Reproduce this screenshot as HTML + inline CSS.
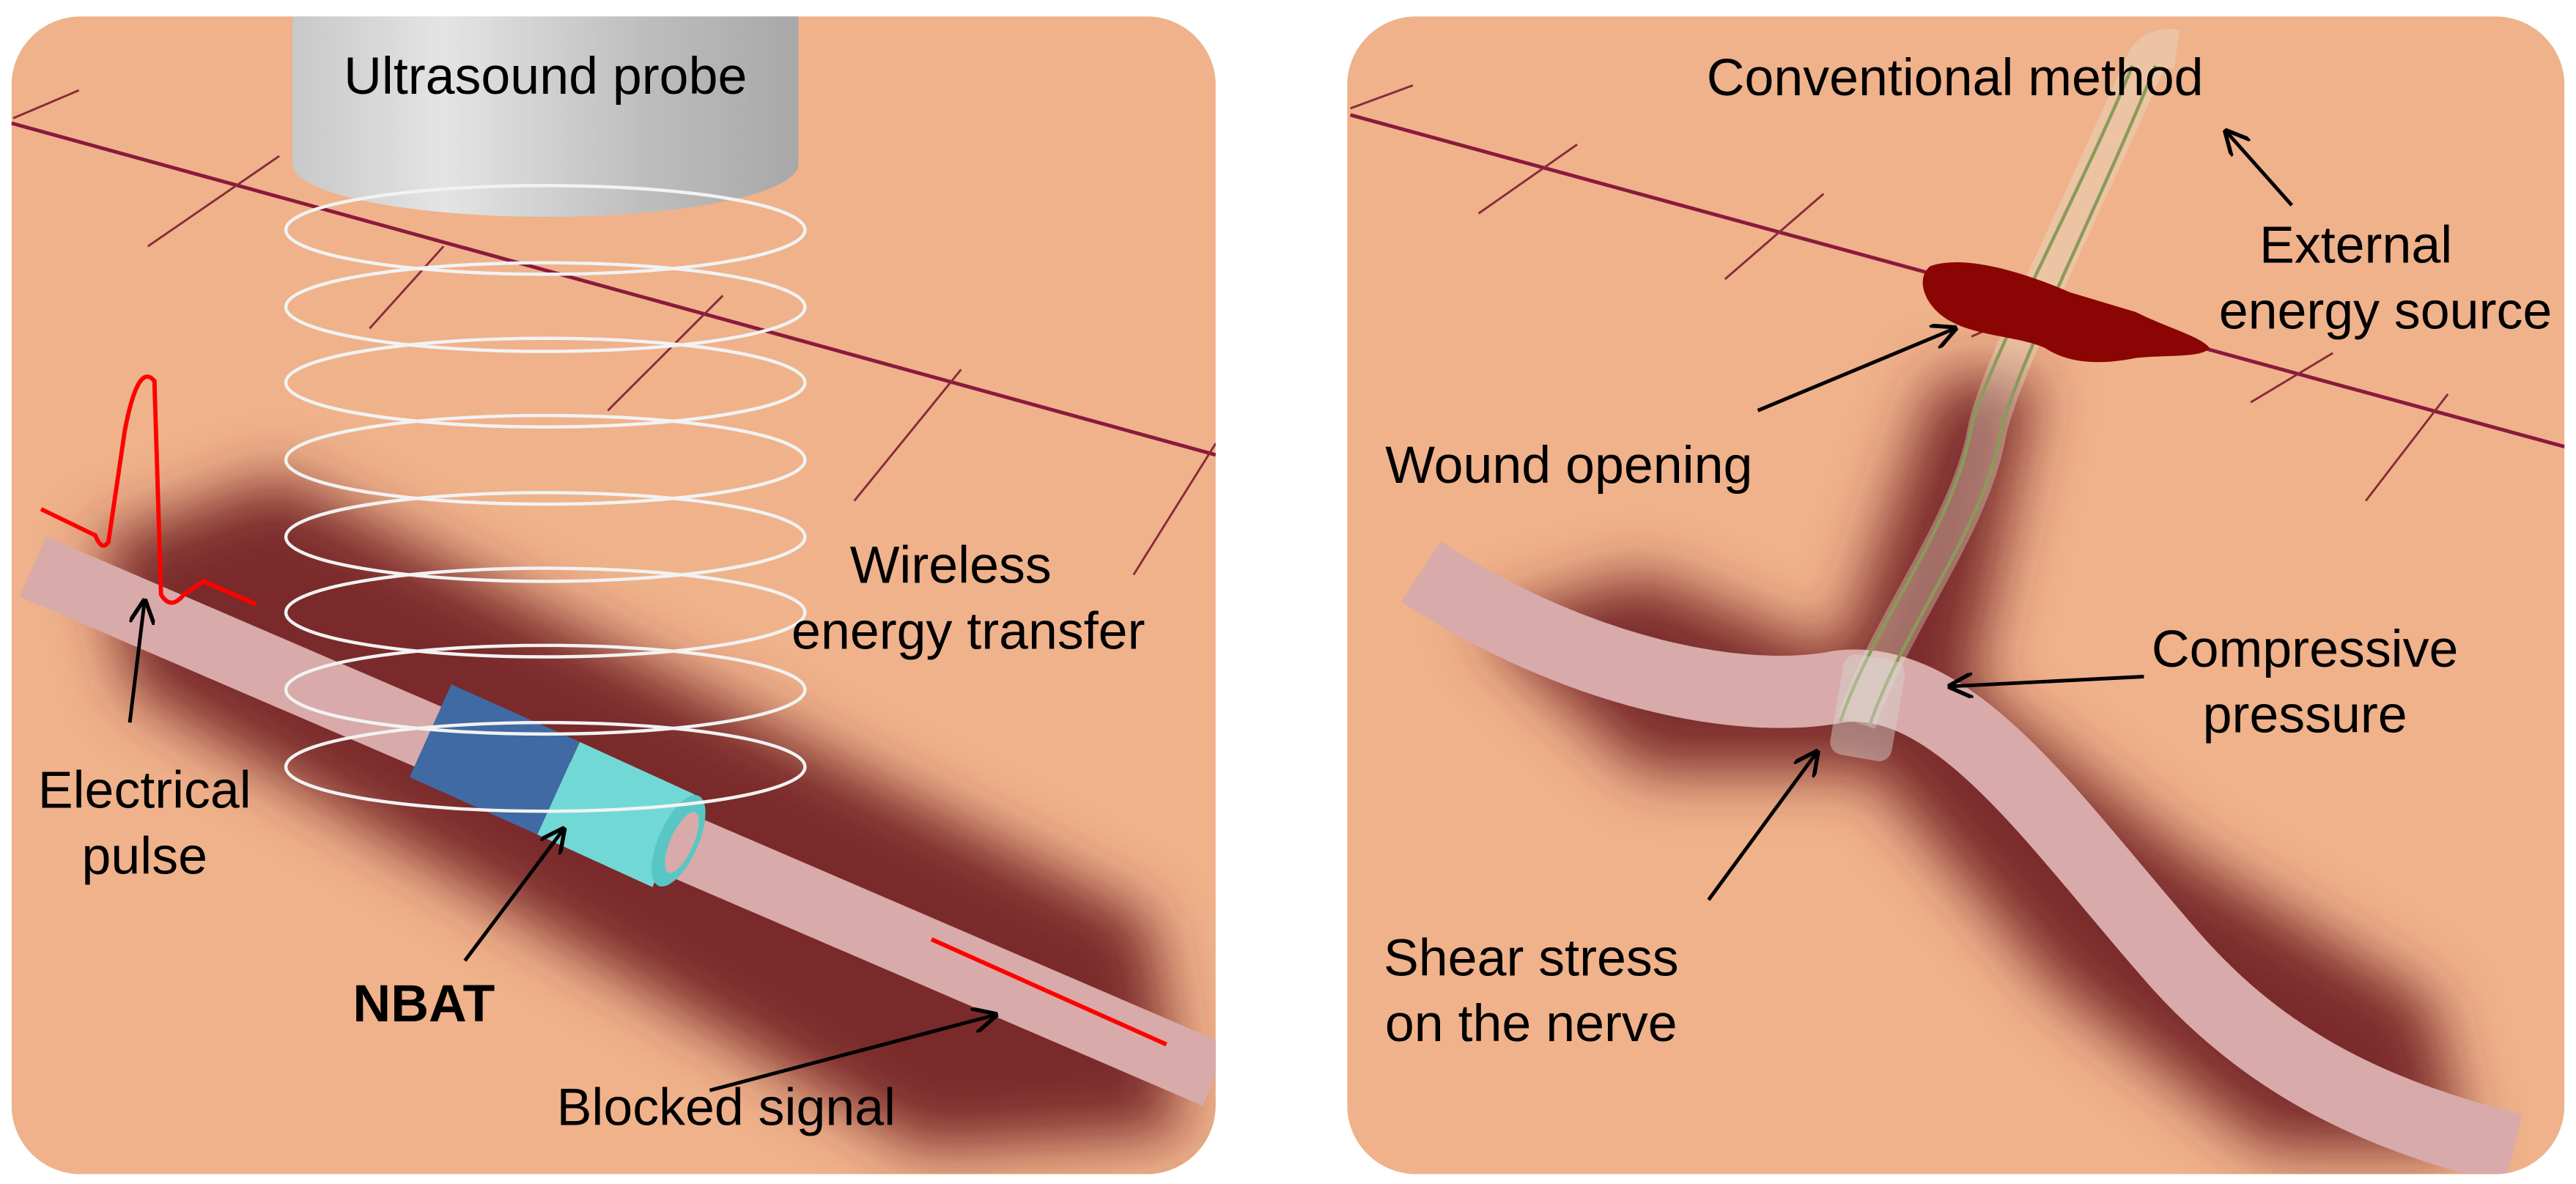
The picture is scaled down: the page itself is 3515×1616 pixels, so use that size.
<!DOCTYPE html>
<html><head><meta charset="utf-8"><style>
html,body{margin:0;padding:0;background:#fff;width:3515px;height:1616px;overflow:hidden}
svg{display:block}
text{font-family:"Liberation Sans",Arial,sans-serif;font-size:32px;fill:#000}
</style></head><body>
<svg width="3515" height="1616" viewBox="0 0 1568 721" preserveAspectRatio="none" xmlns="http://www.w3.org/2000/svg">
<defs>
<filter id="blur" x="-30%" y="-30%" width="160%" height="160%"><feGaussianBlur stdDeviation="18"/></filter>
<linearGradient id="probe" x1="0" x2="1" y1="0" y2="0">
<stop offset="0" stop-color="#c8c8c8"/><stop offset="0.3" stop-color="#e4e4e4"/><stop offset="0.7" stop-color="#bdbdbd"/><stop offset="1" stop-color="#a8a8a8"/></linearGradient>
<clipPath id="cL"><rect x="7" y="10" width="733" height="705" rx="42"/></clipPath>
<clipPath id="cR"><rect x="820" y="10" width="741" height="705" rx="42"/></clipPath>
<marker id="ah" viewBox="0 0 10 10" refX="9" refY="5" markerWidth="7" markerHeight="7" orient="auto"><path d="M0,0 L10,5 L0,10" fill="none" stroke="#000" stroke-width="1.6"/></marker>
</defs>

<!-- LEFT PANEL -->
<g clip-path="url(#cL)">
<rect x="7" y="10" width="733" height="705" fill="#efb28b"/>
<path d="M7,75 L740,277" stroke="#8a1a3c" stroke-width="2.2" fill="none"/>
<g stroke="#8a2a3a" stroke-width="1.3" fill="none">
<path d="M8,72 L48,55"/><path d="M90,150 L170,95"/><path d="M225,200 L270,150"/><path d="M370,250 L440,180"/><path d="M520,305 L585,225"/><path d="M690,350 L740,270"/>
</g>
<path d="M60,330 L170,290 L700,560 L720,690 L560,700 L80,420 Z" fill="#7a2a2c" filter="url(#blur)"/>
<path d="M20,345 L740,655" stroke="#d8aaa9" stroke-width="40" fill="none"/>
<path d="M262,445 L340,480" stroke="#3f6aa3" stroke-width="62" fill="none"/>
<path d="M340,480 L410,512" stroke="#72d8d6" stroke-width="62" fill="none"/>
<ellipse cx="413" cy="512" rx="12" ry="30" transform="rotate(24 413 512)" fill="#58c6c4"/>
<ellipse cx="415" cy="513" rx="7" ry="20" transform="rotate(24 415 513)" fill="#d8aaa9"/>
<rect x="178" y="0" width="308" height="100" fill="url(#probe)"/>
<ellipse cx="332" cy="100" rx="154" ry="32" fill="url(#probe)"/>
<g fill="none" stroke="#f2f2f2" stroke-width="2">
<ellipse cx="332" cy="140" rx="158" ry="27"/>
<ellipse cx="332" cy="187" rx="158" ry="27"/>
<ellipse cx="332" cy="233" rx="158" ry="27"/>
<ellipse cx="332" cy="280" rx="158" ry="27"/>
<ellipse cx="332" cy="327" rx="158" ry="27"/>
<ellipse cx="332" cy="373" rx="158" ry="27"/>
<ellipse cx="332" cy="420" rx="158" ry="27"/>
<ellipse cx="332" cy="467" rx="158" ry="27"/>
</g>
<path d="M25,310 L58,326 Q62,336 66,330 L76,262 Q84,220 94,232 L98,362 Q104,372 112,362 L124,354 L156,368" stroke="#f00" stroke-width="2.6" fill="none"/>
<path d="M567,572 L710,636" stroke="#f00" stroke-width="2.6"/>
<g stroke="#000" stroke-width="2.2" fill="none" marker-end="url(#ah)">
<path d="M79,440 L88,366"/>
<path d="M283,585 L343,505"/>
<path d="M432,664 L606,618"/>
</g>
<text x="332" y="57" text-anchor="middle">Ultrasound probe</text>
<text x="640" y="355" text-anchor="end">Wireless</text>
<text x="697" y="395" text-anchor="end">energy transfer</text>
<text x="88" y="492" text-anchor="middle">Electrical</text>
<text x="88" y="532" text-anchor="middle">pulse</text>
<text x="258" y="622" text-anchor="middle" font-weight="bold">NBAT</text>
<text x="442" y="685" text-anchor="middle">Blocked signal</text>
</g>

<!-- RIGHT PANEL -->
<g clip-path="url(#cR)">
<rect x="820" y="10" width="741" height="705" fill="#efb28b"/>
<path d="M822,70 L1561,272" stroke="#8a1a3c" stroke-width="2.2" fill="none"/>
<g stroke="#8a2a3a" stroke-width="1.3" fill="none">
<path d="M822,66 L860,52"/><path d="M900,130 L960,88"/><path d="M1050,170 L1110,118"/><path d="M1200,205 L1245,185"/><path d="M1370,245 L1420,215"/><path d="M1440,305 L1490,240"/>
</g>
<path d="M900,380 L1000,350 L1120,400 L1180,230 L1240,230 L1200,420 L1330,520 L1480,610 L1500,700 L1380,700 L1250,600 L1140,470 L1000,470 Z" fill="#7a2a2c" filter="url(#blur)"/>
<path d="M865,348 C960,410 1060,430 1120,418 C1190,410 1250,500 1320,580 C1380,650 1450,680 1530,700" stroke="#d8aaa9" stroke-width="44" fill="none"/>
<path d="M1130,440 C1150,380 1200,320 1210,260 C1220,220 1270,120 1305,40 Q1310,28 1325,30" stroke="#e8e4d0" stroke-width="24" fill="none" opacity="0.35"/>
<path d="M1120,440 C1140,380 1190,320 1200,260 C1210,220 1265,120 1298,40" stroke="#8a9a5a" stroke-width="2" fill="none"/>
<path d="M1138,442 C1158,382 1208,322 1218,262 C1228,222 1280,120 1312,40" stroke="#8a9a5a" stroke-width="2" fill="none"/>
<rect x="1118" y="400" width="38" height="62" rx="8" fill="#d8d8d0" opacity="0.45" transform="rotate(10 1137 430)"/>
<path d="M1175,162 C1195,155 1230,165 1260,178 L1300,190 C1320,200 1340,205 1345,212 C1340,218 1320,216 1300,218 C1280,222 1260,222 1245,212 C1230,205 1205,205 1188,196 C1172,188 1165,170 1175,162 Z" fill="#8b0504"/>
<g stroke="#000" stroke-width="2.2" fill="none" marker-end="url(#ah)">
<path d="M1395,125 L1355,80"/>
<path d="M1070,250 L1190,200"/>
<path d="M1305,412 L1187,418"/>
<path d="M1040,548 L1106,458"/>
</g>
<text x="1190" y="58" text-anchor="middle">Conventional method</text>
<text x="1434" y="160" text-anchor="middle">External</text>
<text x="1452" y="200" text-anchor="middle">energy source</text>
<text x="955" y="294" text-anchor="middle">Wound opening</text>
<text x="1403" y="406" text-anchor="middle">Compressive</text>
<text x="1403" y="446" text-anchor="middle">pressure</text>
<text x="932" y="594" text-anchor="middle">Shear stress</text>
<text x="932" y="634" text-anchor="middle">on the nerve</text>
</g>
</svg>
</body></html>
